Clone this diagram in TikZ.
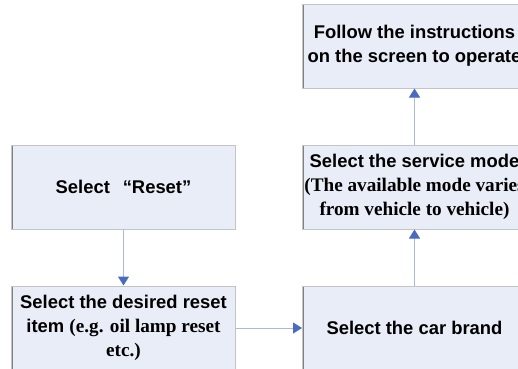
\documentclass[tikz,border=0pt]{standalone}
\usepackage{fontspec}
\setmainfont{Liberation Serif}
\setsansfont{Liberation Sans}
\usepackage{tikz}
\usetikzlibrary{arrows.meta,positioning}

\definecolor{boxfill}{HTML}{E9EDF7}
\definecolor{boxedge}{HTML}{C4C4C4}
\definecolor{boxdark}{HTML}{808080}
\definecolor{flowline}{HTML}{A9B9E1}
\definecolor{flowhead}{HTML}{4A6CC0}

\tikzset{
  stepbox/.style={draw=boxedge, line width=1pt, fill=boxfill,
    minimum width=224pt, minimum height=84pt, inner sep=0pt, align=center,
    font=\fontsize{18.4}{24}\selectfont\sffamily\bfseries,
    path picture={\draw[boxdark,line width=2pt] (path picture bounding box.south west) -- (path picture bounding box.north west);}},
  flow/.style={draw=flowline, line width=1pt, -{Triangle[length=9pt,width=11pt,color=flowhead]}},
}
\newcommand{\rmnote}[1]{{\fontsize{19.2}{24}\selectfont\rmfamily #1}}

\begin{document}
\begin{tikzpicture}
\useasboundingbox (0,0) rectangle (518pt,-368pt);
\clip (0,0) rectangle (518pt,-368pt);

\node[stepbox] (reset) at (123.5pt,-187pt) {Select\hspace{0.7em}“Reset”};
\node[stepbox, below=56pt of reset] (item) {Select the desired reset\\item \rmnote{(e.g. oil lamp reset}\\\rmnote{etc.)}};
\node[stepbox, right=66pt of item] (brand) {Select the car brand};
\node[stepbox, above=56pt of brand] (mode) {Select the service mode\\\rmnote{(The available mode varies}\\\rmnote{from vehicle to vehicle)}};
\node[stepbox, above=56pt of mode] (follow) {Follow the instructions\\on the screen to operate};

\draw[flow] (reset) -- (item);
\draw[flow] (item) -- (brand);
\draw[flow] (brand) -- (mode);
\draw[flow] (mode) -- (follow);
\end{tikzpicture}
\end{document}
